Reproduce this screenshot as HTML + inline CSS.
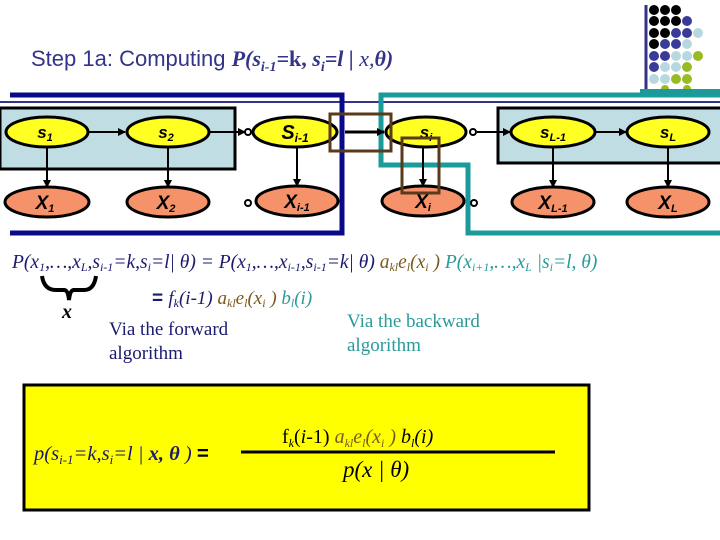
<!DOCTYPE html>
<html><head><meta charset="utf-8"><style>
html,body{margin:0;padding:0;background:#fff;width:720px;height:540px;overflow:hidden}
svg{display:block}
.nl{font-family:"Liberation Sans",sans-serif;font-style:italic;font-weight:bold;font-size:17px;fill:#000}
.tm{font-family:"Liberation Serif",serif;font-style:italic}
</style></head><body>
<svg width="720" height="540" viewBox="0 0 720 540" xmlns="http://www.w3.org/2000/svg">
<defs><marker id="a" markerWidth="8" markerHeight="8" refX="7" refY="4" orient="auto" markerUnits="userSpaceOnUse"><path d="M0,0 L8,4 L0,8 z" fill="#000"/></marker></defs>
<g>
<line x1="646" y1="5" x2="646" y2="90" stroke="#333388" stroke-width="3"/>
<g fill="#000"><circle cx="654" cy="10" r="5"/><circle cx="665" cy="10" r="5"/><circle cx="676" cy="10" r="5"/>
<circle cx="654" cy="21" r="5"/><circle cx="665" cy="21" r="5"/><circle cx="676" cy="21" r="5"/>
<circle cx="654" cy="33" r="5"/><circle cx="665" cy="33" r="5"/><circle cx="654" cy="44" r="5"/></g>
<g fill="#3a3a99"><circle cx="687" cy="21" r="5"/><circle cx="676" cy="33" r="5"/><circle cx="687" cy="33" r="5"/><circle cx="665" cy="44" r="5"/><circle cx="676" cy="44" r="5"/><circle cx="654" cy="56" r="5"/><circle cx="665" cy="56" r="5"/><circle cx="654" cy="67" r="5"/></g>
<g fill="#b8d8e0"><circle cx="698" cy="33" r="5"/><circle cx="687" cy="44" r="5"/><circle cx="676" cy="56" r="5"/><circle cx="687" cy="56" r="5"/><circle cx="665" cy="67" r="5"/><circle cx="676" cy="67" r="5"/><circle cx="654" cy="79" r="5"/><circle cx="665" cy="79" r="5"/></g>
<g fill="#99bb22"><circle cx="698" cy="56" r="5"/><circle cx="687" cy="67" r="5"/><circle cx="676" cy="79" r="5"/><circle cx="687" cy="79" r="5"/><circle cx="665" cy="89" r="4"/><circle cx="687" cy="89" r="4"/></g>
</g>
<rect x="640" y="89" width="80" height="5" fill="#1a9a9a"/>
<text x="31" y="66" font-family="Liberation Sans,sans-serif" font-size="22" fill="#333388">Step 1a: Computing <tspan font-family="Liberation Serif,serif" font-style="italic" font-weight="bold">P(s<tspan font-size="14" dy="5">i-1</tspan><tspan dy="-5">=</tspan><tspan font-style="normal">k, </tspan>s<tspan font-size="14" dy="5">i</tspan><tspan dy="-5">=l | </tspan><tspan font-weight="normal">x,</tspan>θ)</tspan></text>
<line x1="0" y1="102" x2="720" y2="102" stroke="#333388" stroke-width="2"/>
<rect x="0" y="108" width="235" height="61" fill="#bfdde3" stroke="#000" stroke-width="3"/>
<rect x="498" y="108" width="224" height="55" fill="#bfdde3" stroke="#000" stroke-width="3"/>
<path d="M10,95 H342 V233 H10" fill="none" stroke="#0a0a88" stroke-width="5"/>
<path d="M720,95 H381 V165 H468 V233 H720" fill="none" stroke="#1a9a9a" stroke-width="5"/>
<g stroke="#000" stroke-width="2" fill="none">
<line x1="88" y1="132" x2="125" y2="132" marker-end="url(#a)"/>
<line x1="209" y1="132" x2="245" y2="132" marker-end="url(#a)"/>
<line x1="345" y1="132" x2="384" y2="132" stroke-width="3" marker-end="url(#a)"/>
<line x1="477" y1="132" x2="510" y2="132" marker-end="url(#a)"/>
<line x1="595" y1="132" x2="626" y2="132" marker-end="url(#a)"/>
<line x1="47" y1="147" x2="47" y2="187" marker-end="url(#a)"/>
<line x1="168" y1="147" x2="168" y2="187" marker-end="url(#a)"/>
<line x1="297" y1="147" x2="297" y2="186" marker-end="url(#a)"/>
<line x1="423" y1="147" x2="423" y2="186" marker-end="url(#a)"/>
<line x1="553" y1="147" x2="553" y2="187" marker-end="url(#a)"/>
<line x1="668" y1="147" x2="668" y2="187" marker-end="url(#a)"/>
</g>
<g fill="#fff" stroke="#000" stroke-width="2">
<circle cx="248" cy="132" r="3"/><circle cx="473" cy="132" r="3"/>
<circle cx="248" cy="203" r="3"/><circle cx="474" cy="203" r="3"/>
</g>
<g stroke="#000" stroke-width="3" fill="#ffff22">
<ellipse cx="47" cy="132" rx="41" ry="15"/><ellipse cx="168" cy="132" rx="41" ry="15"/>
<ellipse cx="295" cy="132" rx="42" ry="15"/><ellipse cx="426" cy="132" rx="40" ry="15"/>
<ellipse cx="553" cy="132" rx="42" ry="15"/><ellipse cx="668" cy="132" rx="41" ry="15"/>
</g>
<g stroke="#000" stroke-width="3" fill="#f5926a">
<ellipse cx="47" cy="202" rx="42" ry="15"/><ellipse cx="168" cy="202" rx="41" ry="15"/>
<ellipse cx="297" cy="201" rx="41" ry="15"/><ellipse cx="423" cy="201" rx="41" ry="15"/>
<ellipse cx="553" cy="202" rx="41" ry="15"/><ellipse cx="668" cy="202" rx="41" ry="15"/>
</g>
<g class="nl" text-anchor="middle">
<text x="45" y="138">s<tspan font-size="11" dy="3">1</tspan></text>
<text x="166" y="138">s<tspan font-size="11" dy="3">2</tspan></text>
<text x="295" y="139" font-size="20">S<tspan font-size="12" dy="3">i-1</tspan></text>
<text x="426" y="138">s<tspan font-size="11" dy="3">i</tspan></text>
<text x="553" y="138">s<tspan font-size="11" dy="3">L-1</tspan></text>
<text x="668" y="138">s<tspan font-size="11" dy="3">L</tspan></text>
<text x="45" y="209" font-size="19">X<tspan font-size="11" dy="3">1</tspan></text>
<text x="166" y="209" font-size="19">X<tspan font-size="11" dy="3">2</tspan></text>
<text x="297" y="208" font-size="19">X<tspan font-size="11" dy="3">i-1</tspan></text>
<text x="423" y="208" font-size="19">X<tspan font-size="11" dy="3">i</tspan></text>
<text x="553" y="209" font-size="19">X<tspan font-size="11" dy="3">L-1</tspan></text>
<text x="668" y="209" font-size="19">X<tspan font-size="11" dy="3">L</tspan></text>
</g>
<rect x="330" y="114" width="61" height="37" fill="none" stroke="#5a3a1a" stroke-width="3"/>
<rect x="402" y="138" width="37" height="55" fill="none" stroke="#5a3a1a" stroke-width="3"/>
<text x="12" y="268" class="tm" font-size="19.5" fill="#1a1a6e">P(x<tspan font-size="12" dy="3">1</tspan><tspan dy="-3">,…,x</tspan><tspan font-size="12" dy="3">L</tspan><tspan dy="-3">,s</tspan><tspan font-size="12" dy="3">i-1</tspan><tspan dy="-3">=k,s</tspan><tspan font-size="12" dy="3">i</tspan><tspan dy="-3">=l| θ) = P(x</tspan><tspan font-size="12" dy="3">1</tspan><tspan dy="-3">,…,x</tspan><tspan font-size="12" dy="3">i-1</tspan><tspan dy="-3">,s</tspan><tspan font-size="12" dy="3">i-1</tspan><tspan dy="-3">=k| θ) </tspan><tspan fill="#7a5a1e">a<tspan font-size="12" dy="3">kl</tspan><tspan dy="-3">e</tspan><tspan font-size="12" dy="3">l</tspan><tspan dy="-3">(x</tspan><tspan font-size="12" dy="3">i</tspan><tspan dy="-3"> ) </tspan></tspan><tspan fill="#2a9a9a">P(x<tspan font-size="12" dy="3">i+1</tspan><tspan dy="-3">,…,x</tspan><tspan font-size="12" dy="3">L</tspan><tspan dy="-3"> |s</tspan><tspan font-size="12" dy="3">i</tspan><tspan dy="-3">=l, θ)</tspan></tspan></text>
<path d="M42,276 Q44,290 56,290 L64,290 Q68,290 69,300 Q70,290 74,290 L84,290 Q94,290 96,276" fill="none" stroke="#000" stroke-width="4"/>
<text x="62" y="318" class="tm" font-size="20" font-weight="bold">x</text>
<text x="152" y="304" class="tm" font-size="19" fill="#1a1a6e"><tspan font-family="Liberation Sans,sans-serif" font-style="normal" font-weight="bold">= </tspan> f<tspan font-size="12" dy="3">k</tspan><tspan dy="-3">(i-1) </tspan><tspan fill="#7a5a1e">a<tspan font-size="12" dy="3">kl</tspan><tspan dy="-3">e</tspan><tspan font-size="12" dy="3">l</tspan><tspan dy="-3">(x</tspan><tspan font-size="12" dy="3">i</tspan><tspan dy="-3"> ) </tspan></tspan><tspan fill="#2a9a9a">b<tspan font-size="12" dy="3">l</tspan><tspan dy="-3">(i)</tspan></tspan></text>
<g font-family="Liberation Serif,serif" font-size="19">
<text x="109" y="335" fill="#1a1a6e">Via the forward</text>
<text x="109" y="359" fill="#1a1a6e">algorithm</text>
<text x="347" y="327" fill="#2a9a9a">Via the backward</text>
<text x="347" y="351" fill="#2a9a9a">algorithm</text>
</g>
<rect x="24" y="385" width="565" height="125" fill="#ffff00" stroke="#000" stroke-width="3"/>
<text x="34" y="460" class="tm" font-size="20.5" fill="#1a1a6e">p(s<tspan font-size="13" dy="4">i-1</tspan><tspan dy="-4">=k,s</tspan><tspan font-size="13" dy="4">i</tspan><tspan dy="-4">=l | </tspan><tspan font-weight="bold">x, θ</tspan> ) <tspan font-family="Liberation Sans,sans-serif" font-style="normal" font-weight="bold" fill="#000">=</tspan></text>
<line x1="241" y1="452" x2="555" y2="452" stroke="#000" stroke-width="3"/>
<text x="282" y="443" font-family="Liberation Serif,serif" font-size="20" fill="#000">f<tspan font-size="12" dy="4" font-style="italic">k</tspan><tspan dy="-4">(<tspan font-style="italic">i</tspan>-1) </tspan><tspan font-style="italic" fill="#7a5a1e">a<tspan font-size="12" dy="4">kl</tspan><tspan dy="-4">e</tspan><tspan font-size="12" dy="4">l</tspan><tspan dy="-4">(x</tspan><tspan font-size="12" dy="4">i</tspan><tspan dy="-4"> ) </tspan></tspan><tspan font-style="italic">b<tspan font-size="12" dy="4">l</tspan><tspan dy="-4">(i)</tspan></tspan></text>
<text x="343" y="477" class="tm" font-size="23" fill="#000">p(x | θ)</text>
</svg>
</body></html>
